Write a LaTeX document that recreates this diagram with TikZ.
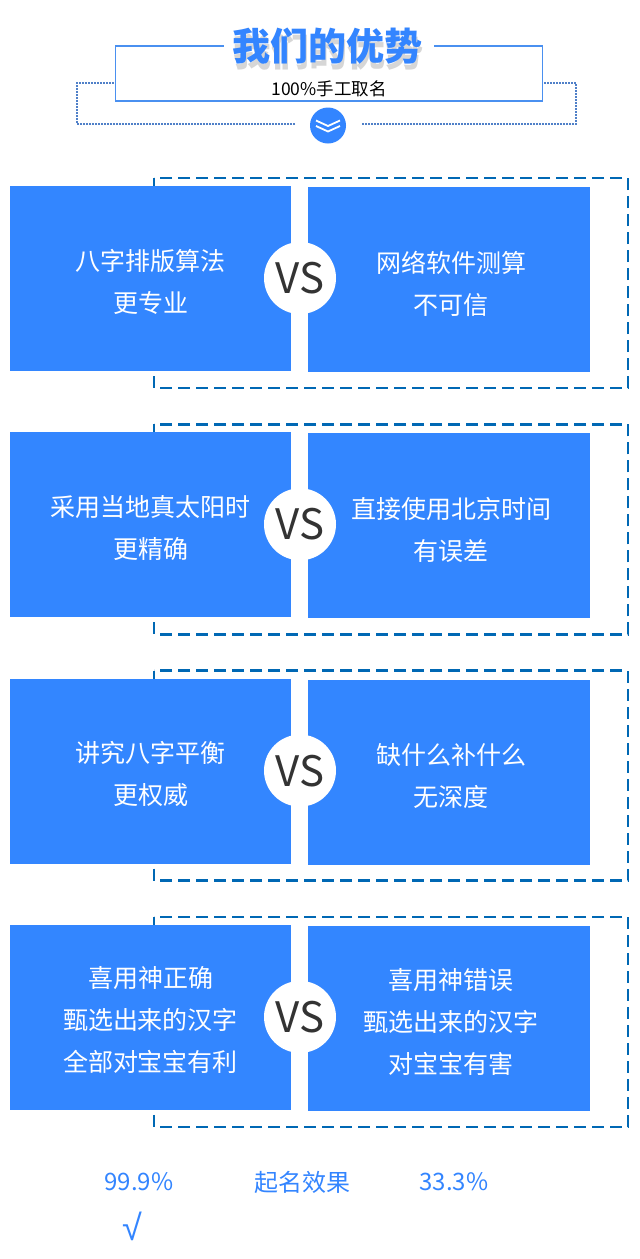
\documentclass[tikz,border=0pt]{standalone}
\usepackage{fontspec}
\setmainfont{Noto Sans CJK SC}
\newfontfamily\cjk{Noto Sans CJK SC}
\newfontfamily\symfont{Liberation Sans}
\definecolor{boxblue}{HTML}{3386FF}
\definecolor{dashblue}{HTML}{0068B4}
\definecolor{titleblue}{HTML}{3385FF}
\definecolor{lineblue}{HTML}{4A90F0}
\definecolor{dotblue}{HTML}{5080C8}
\definecolor{vsgray}{HTML}{333333}
\tikzset{
  cmpbox/.style={fill=boxblue, draw=none, inner sep=0pt, minimum width=281.5pt, minimum height=185pt},
  cmptext/.style={text=white, align=center, inner sep=0pt, font=\cjk\fontsize{25}{42}\selectfont},
  dashframe/.style={draw=dashblue, line width=2.6pt, dash pattern=on 12pt off 6pt},
  vscircle/.style={circle, fill=white, minimum size=72pt, inner sep=0pt, text=vsgray,
    font=\cjk\fontsize{42}{42}\selectfont},
  dotframe/.style={draw=dotblue, line width=1.6pt, dash pattern=on 1.6pt off 1.4pt},
  bottomtext/.style={text=titleblue, font=\cjk\fontsize{24}{28}\selectfont, inner sep=0pt}
}
\begin{document}
\begin{tikzpicture}[x=1pt,y=-1pt]
\useasboundingbox (0,0) rectangle (640,1259);
\fill[white] (0,0) rectangle (640,1259);
% header dotted frame
\coordinate (dA) at (295,124);
\coordinate (dB) at (362,124);
\draw[dotframe] (dA) -- (77,124) -- (77,83) -- (576,83) -- (576,124) -- (dB);
% solid box
\node[draw=lineblue, line width=1.5pt, fill=white, minimum width=427pt, minimum height=55pt, inner sep=0pt] (hbox) at (329,73.5) {};
\fill[white] (224,43) rectangle (434,50);
% title with shadow
\node[text=black!45, opacity=0.35, font=\cjk\bfseries\fontsize{38}{38}\selectfont, inner sep=0pt] (shadow) at (328,52) {我们的优势};
\node[text=titleblue, font=\cjk\bfseries\fontsize{38}{38}\selectfont, inner sep=0pt] (title) at (327,46) {我们的优势};
\node[text=black, font=\cjk\fontsize{17.5}{19}\selectfont, inner sep=0pt] (sub) at (329,89) {100\%手工取名};
% chevron circle
\node[circle, fill=titleblue, minimum size=36pt, inner sep=0pt] (chev) at (328,125.5) {};
\draw[white, line width=1.8pt] ([shift={(-12,-5)}]chev.center) -- ([shift={(0,0.5)}]chev.center) -- ([shift={(12,-5)}]chev.center);
\draw[white, line width=1.8pt] ([shift={(-12,0.5)}]chev.center) -- ([shift={(0,6)}]chev.center) -- ([shift={(12,0.5)}]chev.center);
% comparison blocks
\foreach \i/\lt/\rt in {
  0/{八字排版算法\\更专业}/{网络软件测算\\不可信},
  1/{采用当地真太阳时\\更精确}/{直接使用北京时间\\有误差},
  2/{讲究八字平衡\\更权威}/{缺什么补什么\\无深度},
  3/{喜用神正确\\甄选出来的汉字\\全部对宝宝有利}/{喜用神错误\\甄选出来的汉字\\对宝宝有害}} {
  \pgfmathsetmacro\dy{246.3*\i}
  \draw[dashframe] (154,178+\dy) rectangle (628,388+\dy);
  \node[cmpbox] (L\i) at (150.5,278.5+\dy) {};
  \node[cmpbox] (R\i) at (449,279.5+\dy) {};
  \node[cmptext] (LT\i) at ([yshift=-3pt]L\i.center) {\lt};
  \node[cmptext] (RT\i) at ([xshift=2pt,yshift=-4pt]R\i.center) {\rt};
  \node[vscircle] (V\i) at (300,278+\dy) {VS};
}
% bottom
\node[bottomtext] (p1) at (139,1182) {99.9\%};
\node[bottomtext] (eff) at (302,1182) {起名效果};
\node[bottomtext] (p2) at (454,1182) {33.3\%};
\node[text=titleblue, font=\symfont\fontsize{36}{36}\selectfont, inner sep=0pt] (chk) at (132,1226) {√};
\end{tikzpicture}
\end{document}
